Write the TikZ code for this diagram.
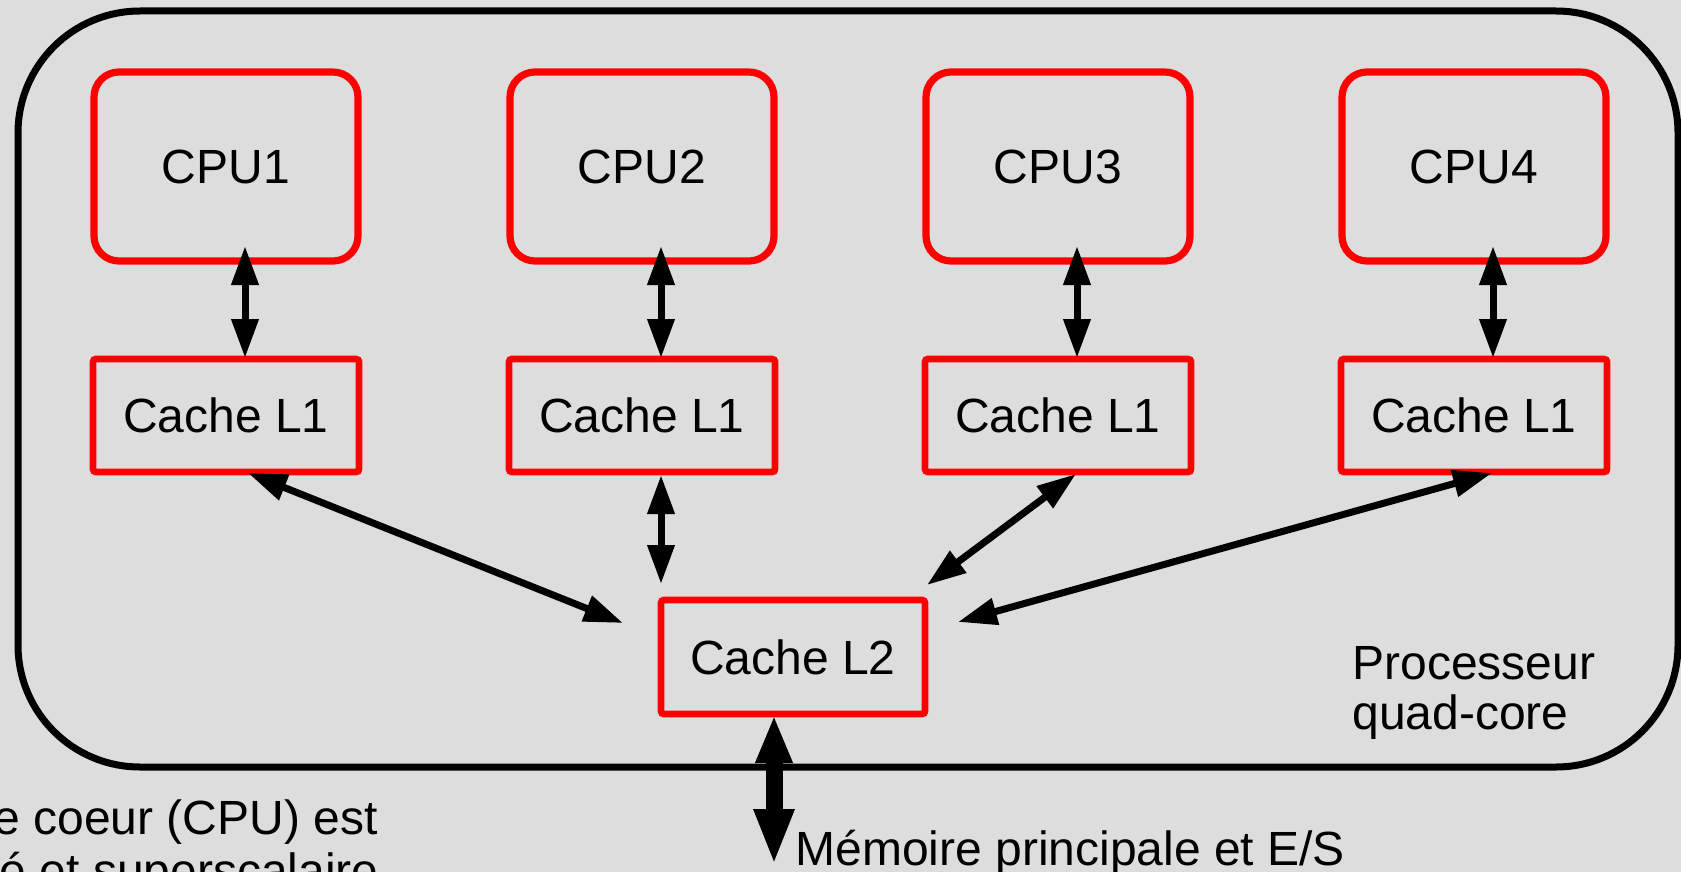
\documentclass[tikz,border=0pt]{standalone}
\usepackage{fontspec}
\setmainfont{Liberation Sans}
\usetikzlibrary{arrows.meta,calc}
\definecolor{panel}{HTML}{DDDDDD}
\definecolor{boxred}{HTML}{FF0000}

\begin{document}
\begin{tikzpicture}[x=0.5pt,y=-0.5pt,
  txt/.style={font=\fontsize{24pt}{26pt}\selectfont, text=black, inner sep=0pt},
  frame/.style={draw=black, fill=panel, line width=3.5pt, rounded corners=61pt,
    minimum width=830pt, minimum height=378pt, inner sep=0pt, outer sep=0pt},
  cpubox/.style={draw=boxred, line width=3.6pt, rounded corners=12.5pt,
    minimum width=132pt, minimum height=94.5pt, outer sep=0pt, txt},
  cachebox/.style={draw=boxred, line width=3.4pt, rounded corners=1.5pt,
    minimum width=133pt, minimum height=56.5pt, outer sep=0pt, txt},
  link/.style={line width=3.5pt,
    {Triangle[length=19.5pt,width=13pt]}-{Triangle[length=19.5pt,width=13pt]}},
  buslink/.style={line width=8.5pt,
    {Triangle[length=24pt,width=17pt]}-{Triangle[length=28pt,width=18.5pt]}},
]
% page and background
\useasboundingbox (0,0) rectangle (1681,872);
\clip (0,0) rectangle (1681,872);
\fill[panel] (0,0) rectangle (1681,872);

% processor package
\node[frame] (proc) at (848,389) {};

% cores and their private caches
\foreach \i/\x in {1/226, 2/642, 3/1058, 4/1474} {
  \node[cpubox] (cpu\i) at (\x,166.5) {CPU\i};
  \node[cachebox] (l1\i) at (\x,415.5) {Cache L1};
  \draw[link] ($(cpu\i.south)+(19,-15)$) -- ($(l1\i.north)+(19,-1)$);
}

% shared cache
\node[cachebox, minimum width=132pt, minimum height=57pt] (l2) at (793,657) {Cache L2};

% L1 <-> L2 links
\draw[link] ($(l11.south)+(22,1)$) -- ($(l2.north west)+(-38,23)$);
\draw[link] ($(l12.south)+(19,3)$) -- ($(l2.north west)+(0,-16)$);
\draw[link] ($(l13.south)+(18,2)$) -- ($(l2.north east)+(2,-15)$);
\draw[link] ($(l14.south)+(18,1)$) -- ($(l2.north east)+(33,22)$);

% processor label
\node[txt, anchor=base west] (proclbl) at (1352,679) {Processeur};
\node[txt, anchor=base west] (proclbl2) at (1352,729) {quad-core};

% bus to main memory
\coordinate (mem) at (774,865);
\draw[buslink] ($(l2.south)+(-19,1)$) -- (mem);
\node[txt, anchor=base west] (memlbl) at (795,865) {Mémoire principale et E/S};

% note on the cores
\node[txt, anchor=base east] (note1) at (378,834) {e coeur (CPU) est};
\node[txt, anchor=base east] (note2) at (379,887) {é et superscalaire};
\end{tikzpicture}
\end{document}
